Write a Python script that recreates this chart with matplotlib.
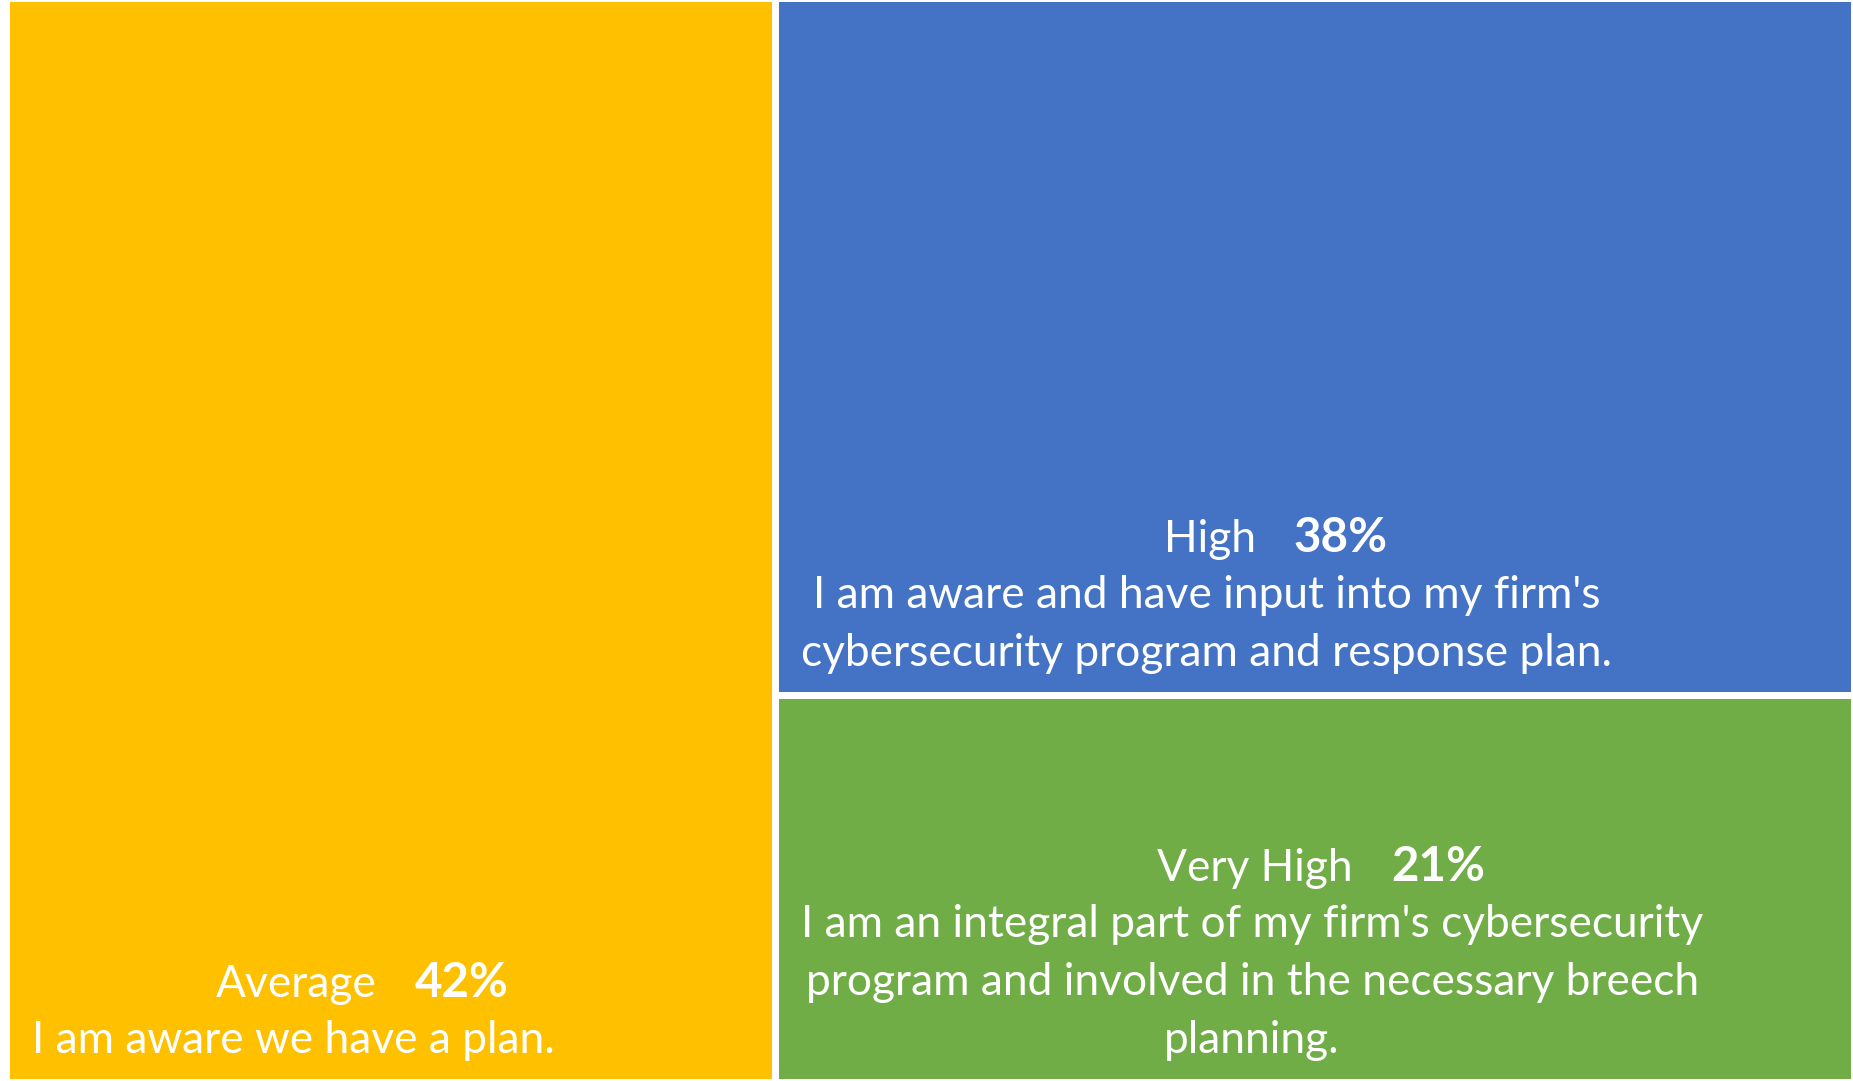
import matplotlib
matplotlib.use("Agg")
import matplotlib.pyplot as plt

# ---------------- data ----------------
categories = ["Average", "High", "Very High"]
values = [42, 38, 21]
pct_labels = ["42%", "38%", "21%"]
descriptions = [
    ["I am aware we have a plan."],
    ["I am aware and have input into my firm's",
     "cybersecurity program and response plan."],
    ["I am an integral part of my firm's cybersecurity",
     "program and involved in the necessary breech",
     "planning."],
]
colors = ["#FFC000", "#4472C4", "#70AD47"]

# ---------------- figure ----------------
W, H = 1853, 1081
fig = plt.figure(figsize=(W / 100, H / 100), dpi=100)
fig.patch.set_facecolor("white")
ax = fig.add_axes([0, 0, 1, 1])
ax.set_xlim(0, W)
ax.set_ylim(H, 0)
ax.axis("off")

FAMILY = ["Lato", "DejaVu Sans"]

# treemap layout region (pixels) and gap
X0, X1, Y0, Y1 = 10, 1851, 2, 1079
GAP = 7
total = sum(values)
xs = X0 + (X1 - X0) * values[0] / total
rest = values[1] + values[2]
ys = Y0 + (Y1 - Y0) * values[1] / rest
rects = [
    (X0, Y0, xs - GAP / 2 - X0, Y1 - Y0),
    (xs + GAP / 2, Y0, X1 - xs - GAP / 2, ys - GAP / 2 - Y0),
    (xs + GAP / 2, ys + GAP / 2, X1 - xs - GAP / 2, Y1 - ys - GAP / 2),
]
for (x, y, w, h), c in zip(rects, colors):
    ax.bar(x, h, width=w, bottom=y, align="edge", color=c, linewidth=0)

fig.canvas.draw()
renderer = fig.canvas.get_renderer()


def width_px(s, **kw):
    t = ax.text(0, 0, s, family=FAMILY, **kw)
    w = t.get_window_extent(renderer).width
    t.remove()
    return w


# font sizes fitted to the reference text widths
FS = 30 * 900 / width_px(descriptions[2][0], fontsize=30)
BFS = 30 * 94 / width_px("38%", fontsize=30, weight="bold")

PAD = 22        # left padding of text block
BOTTOM = 26     # last baseline above box bottom
LINE = 58       # baseline spacing
HEAD = 56       # header baseline above first description line
HSHIFT = 69     # header centre offset
HGAP = 38       # gap between name and percent

for (x, y, w, h), name, pct, lines in zip(rects, categories, pct_labels, descriptions):
    widths = [width_px(l, fontsize=FS) for l in lines]
    cx = x + PAD + max(widths) / 2
    last_base = y + h - BOTTOM
    n = len(lines)
    for j, line in enumerate(lines):
        b = last_base - (n - 1 - j) * LINE
        ax.text(cx, b, line, ha="center", va="baseline", color="white",
                fontsize=FS, family=FAMILY)
    hb = last_base - (n - 1) * LINE - HEAD
    hc = cx + HSHIFT
    nw = width_px(name, fontsize=FS)
    pw = width_px(pct, fontsize=BFS, weight="bold")
    tot = nw + HGAP + pw
    ax.text(hc - tot / 2, hb, name, ha="left", va="baseline", color="white",
            fontsize=FS, family=FAMILY)
    ax.text(hc - tot / 2 + nw + HGAP, hb, pct, ha="left", va="baseline",
            color="white", fontsize=BFS, weight="bold", family=FAMILY)

fig.savefig("out.png", dpi=100, facecolor="white")
